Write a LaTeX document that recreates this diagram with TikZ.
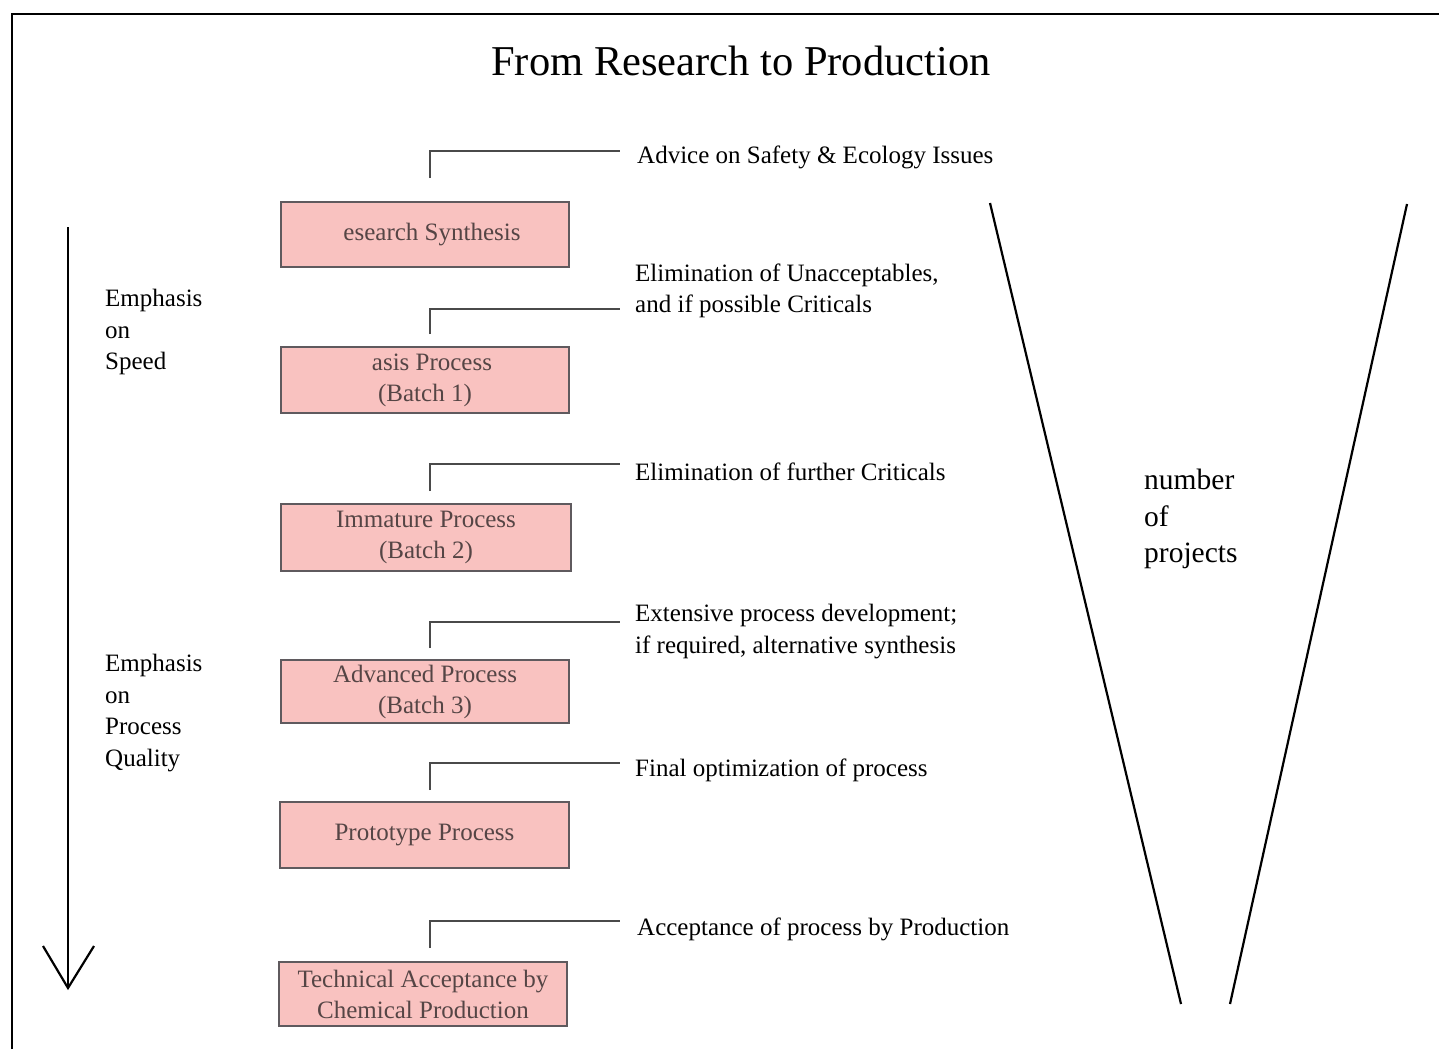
\documentclass[tikz,border=0pt]{standalone}
\usepackage{fontspec}
\setmainfont{Liberation Serif}
\begin{document}
\begin{tikzpicture}[x=1pt,y=-1pt,
  stagebox/.style={draw=boxline,line width=1.6pt,fill=boxfill,text=boxtext,
    inner sep=0pt,align=center,font=\fontsize{25}{31}\selectfont},
  note/.style={anchor=west,inner sep=0pt,align=left,font=\fontsize{25}{31.5}\selectfont},
  side/.style={anchor=north west,inner sep=0pt,align=left,font=\fontsize{25}{31.5}\selectfont},
  tick/.style={draw=tickline,line width=1.6pt},
  thick line/.style={line width=2.2pt}]
\definecolor{boxfill}{HTML}{F9C2C0}
\definecolor{boxline}{HTML}{5F5A5E}
\definecolor{boxtext}{HTML}{554545}
\definecolor{tickline}{HTML}{4A4A4A}
\useasboundingbox (0,0) rectangle (1439,1049);
\fill[white] (0,0) rectangle (1439,1049);
% frame
\coordinate (fbl) at (12,1049);
\coordinate (ftl) at (12,14);
\coordinate (ftr) at (1439,14);
\draw[thick line] (fbl) -- (ftl) -- (ftr);
% title
\node[inner sep=0pt,font=\fontsize{42.5}{50}\selectfont] (title) at (741,61) {From Research to Production};
% stage boxes
\node[stagebox,minimum width=288pt,minimum height=65pt] (b1) at (425,234.5) {\hspace*{14pt}esearch Synthesis};
\node[stagebox,minimum width=288pt,minimum height=66pt] (b2) at (425,380) {\hspace*{14pt}asis Process\\(Batch 1)};
\node[stagebox,minimum width=290pt,minimum height=67pt] (b3) at (426,537.5) {Immature Process\\(Batch 2)};
\node[stagebox,minimum width=288pt,minimum height=63pt] (b4) at (425,691.5) {Advanced Process\\(Batch 3)};
\node[stagebox,minimum width=289pt,minimum height=66pt] (b5) at (424.5,835) {Prototype Process};
\node[stagebox,minimum width=288pt,minimum height=64pt] (b6) at (423,994) {Technical Acceptance by\\Chemical Production};
% notes
\node[note] (n1) at (637,157) {Advice on Safety \& Ecology Issues};
\node[note] (n2) at (635,291) {Elimination of Unacceptables,\\and if possible Criticals};
\node[note] (n3) at (635,472) {Elimination of further Criticals};
\node[note] (n4) at (635,631.5) {Extensive process development;\\if required, alternative synthesis};
\node[note] (n5) at (635,770) {Final optimization of process};
\node[note] (n6) at (637,929) {Acceptance of process by Production};
% brackets
\coordinate (t1a) at (430,178); \coordinate (t1b) at (620,151);
\coordinate (t2a) at (430,334); \coordinate (t2b) at (620,309);
\coordinate (t3a) at (430,491); \coordinate (t3b) at (620,464);
\coordinate (t4a) at (430,648); \coordinate (t4b) at (620,622);
\coordinate (t5a) at (430,790); \coordinate (t5b) at (620,763);
\coordinate (t6a) at (430,948); \coordinate (t6b) at (620,921);
\draw[tick] (t1a) |- (t1b);
\draw[tick] (t2a) |- (t2b);
\draw[tick] (t3a) |- (t3b);
\draw[tick] (t4a) |- (t4b);
\draw[tick] (t5a) |- (t5b);
\draw[tick] (t6a) |- (t6b);
% left arrow
\coordinate (as) at (68,227);
\coordinate (ae) at (68,988);
\coordinate (al) at (43,946);
\coordinate (ar) at (94,946);
\draw[thick line] (as) -- (ae);
\draw[thick line,line join=miter] (al) -- (ae) -- (ar);
\node[side] (s1) at (105,289) {Emphasis\\on\\Speed};
\node[side] (s2) at (105,654) {Emphasis\\on\\Process\\Quality};
% funnel
\coordinate (vl1) at (990,203); \coordinate (vl2) at (1181,1004);
\coordinate (vr1) at (1407,204); \coordinate (vr2) at (1230,1004);
\draw[thick line] (vl1) -- (vl2);
\draw[thick line] (vr1) -- (vr2);
\node[anchor=north west,inner sep=0pt,align=left,font=\fontsize{29.5}{36.5}\selectfont] (np) at (1144,469) {number\\of\\projects};
\end{tikzpicture}
\end{document}
